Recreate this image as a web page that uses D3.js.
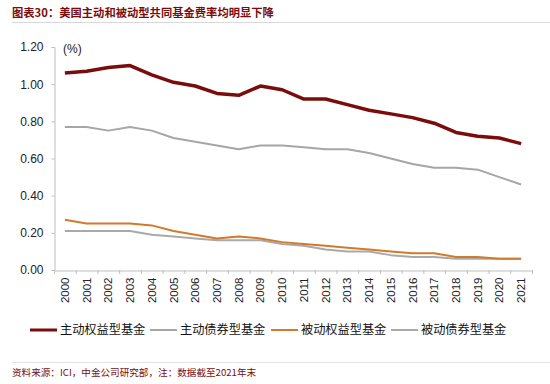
<!DOCTYPE html>
<html>
<head>
<meta charset="utf-8">
<script src="https://cdn.jsdelivr.net/npm/d3@7"></script>
<style>
  body { margin: 0; background: #fff; }
  svg { display: block; font-family: "Liberation Sans", Arial, sans-serif; }
  .cjk { font-family: "Noto Sans CJK SC", sans-serif; }
</style>
</head>
<body>
<svg id="chart" width="550" height="384"></svg>
<script>
const years = ["2000","2001","2002","2003","2004","2005","2006","2007","2008","2009","2010",
  "2011","2012","2013","2014","2015","2016","2017","2018","2019","2020","2021"];

// expense ratios (%)
const activeEquity = [1.06,1.07,1.09,1.10,1.05,1.01,0.99,0.95,0.94,0.99,0.97,
  0.92,0.92,0.89,0.86,0.84,0.82,0.79,0.74,0.72,0.71,0.68];
const activeBond = [0.77,0.77,0.75,0.77,0.75,0.71,0.69,0.67,0.65,0.67,0.67,
  0.66,0.65,0.65,0.63,0.60,0.57,0.55,0.55,0.54,0.50,0.46];
const passiveEquity = [0.27,0.25,0.25,0.25,0.24,0.21,0.19,0.17,0.18,0.17,0.15,
  0.14,0.13,0.12,0.11,0.10,0.09,0.09,0.07,0.07,0.06,0.06];
const passiveBond = [0.21,0.21,0.21,0.21,0.19,0.18,0.17,0.16,0.16,0.16,0.14,
  0.13,0.11,0.10,0.10,0.08,0.07,0.07,0.06,0.06,0.06,0.06];

const yTicks = [0, 0.2, 0.4, 0.6, 0.8, 1.0, 1.2];

const series = [
  { name: "主动权益型基金", values: activeEquity, color: "#7b0c0c", width: 3.5 },
  { name: "主动债券型基金", values: activeBond, color: "#a6a6a6", width: 2 },
  { name: "被动权益型基金", values: passiveEquity, color: "#d27a2c", width: 2 },
  { name: "被动债券型基金", values: passiveBond, color: "#a9a9a9", width: 2 }
];

const svg = d3.select("#chart");
const margin = { left: 54, right: 532, top: 47, bottom: 270 };

// title + rules
svg.append("text").attr("class", "cjk")
  .attr("x", 12).attr("y", 17)
  .attr("font-size", 11.3).attr("font-weight", "bold")
  .attr("fill", "#7b0c0c")
  .text("图表30：美国主动和被动型共同基金费率均明显下降");
svg.append("line").attr("x1", 12).attr("x2", 550).attr("y1", 22.5).attr("y2", 22.5)
  .attr("stroke", "#d9d9d9").attr("stroke-width", 1);
svg.append("line").attr("x1", 12).attr("x2", 550).attr("y1", 362.5).attr("y2", 362.5)
  .attr("stroke", "#e3e3e3").attr("stroke-width", 1);
svg.append("text").attr("class", "cjk")
  .attr("x", 12).attr("y", 376)
  .attr("font-size", 9.6)
  .attr("fill", "#7b0c0c")
  .text("资料来源：ICI，中金公司研究部，注：数据截至2021年末");

const x = d3.scaleBand().domain(years).range([margin.left, margin.right]);
const y = d3.scaleLinear().domain([0, 1.2]).range([margin.bottom, margin.top]);

// y axis
const yAxis = svg.append("g")
  .attr("transform", `translate(${margin.left + 0.5},0)`)
  .call(d3.axisLeft(y).tickValues(yTicks).tickFormat(d3.format(".2f")).tickSize(3).tickPadding(8));
yAxis.select(".domain").attr("stroke", "#bfbfbf");
yAxis.selectAll(".tick line").attr("stroke", "#bfbfbf");
yAxis.selectAll("text").attr("font-size", 12).attr("fill", "#222")
  .attr("font-family", "Liberation Sans, Arial, sans-serif");

svg.append("text")
  .attr("x", 63).attr("y", 53)
  .attr("font-size", 12).attr("fill", "#222")
  .text("(%)");

// x axis
const xAxis = svg.append("g")
  .attr("transform", `translate(0,${margin.bottom + 0.5})`)
  .call(d3.axisBottom(x).tickSize(0).tickPadding(6));
xAxis.select(".domain").attr("stroke", "#bfbfbf");
xAxis.selectAll("text")
  .attr("font-size", 11.5).attr("fill", "#222")
  .attr("font-family", "Liberation Sans, Arial, sans-serif")
  .attr("transform", "rotate(-90)")
  .attr("text-anchor", "end")
  .attr("x", -7).attr("y", 0).attr("dy", "0.35em");
// tick marks on band edges
svg.append("g").selectAll("line")
  .data(years.concat(["end"]))
  .join("line")
  .attr("x1", (d, i) => margin.left + i * x.bandwidth() + 0.5)
  .attr("x2", (d, i) => margin.left + i * x.bandwidth() + 0.5)
  .attr("y1", margin.bottom)
  .attr("y2", margin.bottom + 4)
  .attr("stroke", "#bfbfbf");

// lines
const line = d3.line()
  .x((d, i) => x(years[i]) + x.bandwidth() / 2)
  .y(d => y(d));

svg.append("g").selectAll("path")
  .data(series.slice().reverse())
  .join("path")
  .attr("d", d => line(d.values))
  .attr("fill", "none")
  .attr("stroke", d => d.color)
  .attr("stroke-width", d => d.width)
  .attr("stroke-linejoin", "round");

// legend
const legendX = [30, 150, 271, 391];
const legend = svg.append("g").selectAll("g")
  .data(series)
  .join("g")
  .attr("transform", (d, i) => `translate(${legendX[i]},330)`);
legend.append("line")
  .attr("x1", 0).attr("x2", 27)
  .attr("stroke", d => d.color)
  .attr("stroke-width", d => d.width === 2 ? 2 : 3);
legend.append("text").attr("class", "cjk")
  .attr("x", 30).attr("dy", "0.35em")
  .attr("font-size", 12.2).attr("fill", "#111")
  .text(d => d.name);
</script>
</body>
</html>
